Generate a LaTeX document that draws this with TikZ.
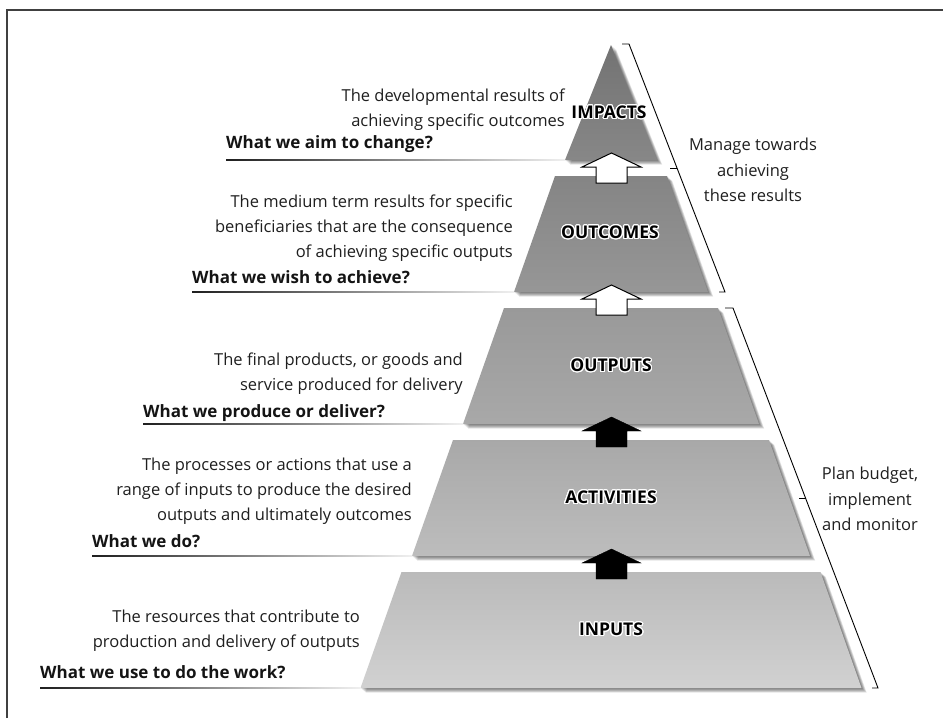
\documentclass[tikz,border=0pt]{standalone}
\usepackage{fontspec}
\setmainfont{Open Sans}
\usepackage[copies]{contour}
\contourlength{1.2pt}
\contournumber{24}
\tikzset{
  desc/.style={anchor=north east, align=right, inner sep=0pt, font=\fontsize{16.5}{25}\selectfont, text=black!88},
  ask/.style={anchor=base west, inner sep=0pt, font=\fontsize{17}{20}\selectfont\bfseries, text=black!92},
  lvl/.style={font=\fontsize{17.5}{20}\selectfont\bfseries, inner sep=0pt, text=black},
  side/.style={align=center, inner sep=0pt, font=\fontsize{16.5}{25.5}\selectfont, text=black!88},
  brk/.style={line width=0.9pt, black},
  warrow/.style={fill=white, draw=black, line width=1pt},
  barrow/.style={fill=black},
  frame/.style={line width=2pt, black!75},
}
\newcommand\pyr[7]{%
  \foreach \k in {1,...,6}{\fill[black,opacity=0.1,xshift=\k*0.85pt,yshift=-\k*0.75pt] (611-#4,#2) -- (611+#4,#2) -- (611+#5,#3) -- (611-#5,#3) -- cycle;}
  \shade[top color=#6, bottom color=#7] (611-#4,#2) coordinate (#1-tl) -- (611+#4,#2) coordinate (#1-tr) -- (611+#5,#3) coordinate (#1-br) -- (611-#5,#3) coordinate (#1-bl) -- cycle;
}
\newcommand\uparr[3]{%
  \draw[#3] (611.5,#2-15) coordinate (#1) -- (641,#2-1) -- (627,#2-1) -- (627,#2+15) -- (596,#2+15) -- (596,#2-1) -- (582,#2-1) -- cycle;
}
\newcommand\uline[3]{%
  \shade[left color=black!88, middle color=black!60, right color=black!6] (#1,#3-0.75) rectangle (#2,#3+0.75);
}
\begin{document}
\begin{tikzpicture}[x=1pt,y=-1pt]
\useasboundingbox (0,0) rectangle (943,718);
\fill[white] (0,0) rectangle (943,718);
\draw[frame] (7,718) coordinate (fb) -- (7,10) coordinate (fc) -- (943,10) coordinate (fr);

% pyramid levels
\pyr{imp}{45}{160}{0}{46}{black!55}{black!47}
\pyr{outc}{176}{292}{56}{97}{black!48}{black!41}
\pyr{outp}{308}{424}{107}{148}{black!40}{black!34}
\pyr{act}{440}{556}{158}{199}{black!34}{black!26}
\pyr{inp}{572}{688}{209.5}{250.5}{black!27}{black!18}

% arrows between levels
\uparr{a1}{168}{warrow}
\uparr{a2}{300}{warrow}
\uparr{a3}{432}{barrow}
\uparr{a4}{564}{barrow}

% level labels
\node[lvl] (impacts) at (609,113) {\contour{white}{IMPACTS}};
\node[lvl] (outcomes) at (610,233) {\contour{white}{OUTCOMES}};
\node[lvl] (outputs) at (611,366) {\contour{white}{OUTPUTS}};
\node[lvl] (activities) at (611,498) {\contour{white}{ACTIVITIES}};
\node[lvl] (inputs) at (611,630) {\contour{white}{INPUTS}};

% descriptions
\node[desc] (d1) at (565,89) {The developmental results of\\achieving specific outcomes};
\node[desc] (d2) at (513,195) {The medium term results for specific\\beneficiaries that are the consequence\\of achieving specific outputs};
\node[desc] (d3) at (463,353) {The final products, or goods and\\service produced for delivery};
\node[desc] (d4) at (412,458) {The processes or actions that use a\\range of inputs to produce the desired\\outputs and ultimately outcomes};
\node[desc] (d5) at (360,610) {The resources that contribute to\\production and delivery of outputs};

% questions
\node[ask] (q1) at (226,148) {What we aim to change?};
\node[ask] (q2) at (192,283) {What we wish to achieve?};
\node[ask] (q3) at (143,417) {What we produce or deliver?};
\node[ask] (q4) at (92,547) {What we do?};
\node[ask] (q5) at (40,678) {What we use to do the work?};

% underlines
\uline{226}{565}{160}
\uline{192}{514}{292}
\uline{143}{463}{424}
\uline{92}{412}{556}
\uline{40}{360.5}{688}

% brackets
\draw[brk] (622,44) coordinate (b1a) -- (629,44) coordinate (b1b) -- (725,292) coordinate (b1c) -- (719,292) coordinate (b1d);
\draw[brk] (677,168) coordinate (b1m) -- (670,168);
\draw[brk] (725,308) coordinate (b2a) -- (733,308) coordinate (b2b) -- (878,688) coordinate (b2c) -- (872,688) coordinate (b2d);
\draw[brk] (805.5,498) coordinate (b2m) -- (798.5,498);

\node[side] (manage) at (753,170) {Manage towards\\achieving\\these results};
\node[side] (plan) at (870,499) {Plan budget,\\implement\\and monitor};
\end{tikzpicture}
\end{document}
